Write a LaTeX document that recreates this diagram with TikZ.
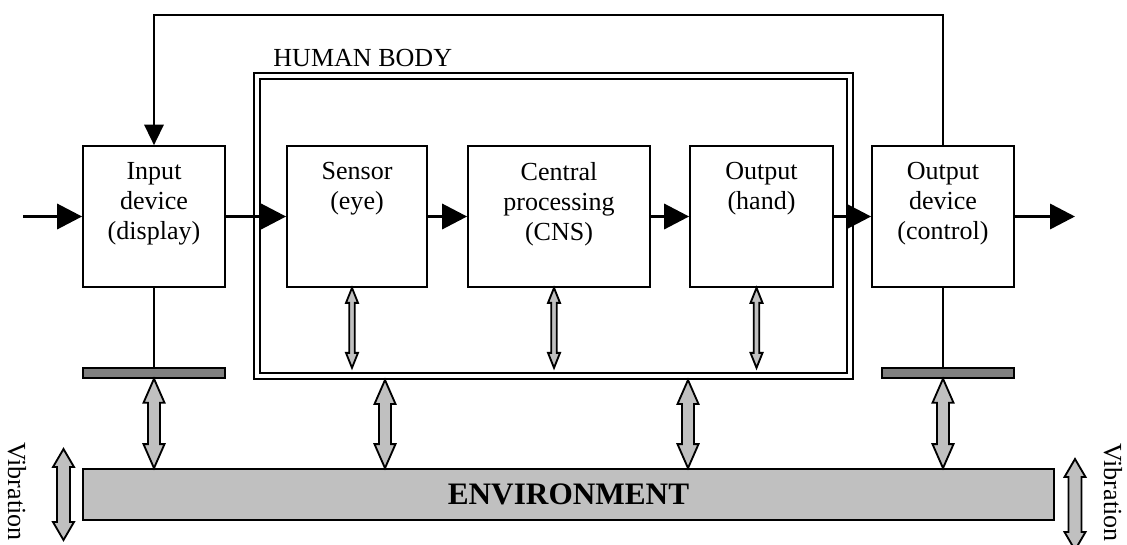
\documentclass[tikz,border=0pt]{standalone}
\usepackage{fontspec}
\setmainfont{Liberation Serif}
\usetikzlibrary{calc}
\usetikzlibrary{arrows.meta}
\definecolor{envgray}{RGB}{192,192,192}
\definecolor{plategray}{RGB}{128,128,128}

% one pixel of the sketch
\newdimen\pix
\pix=0.4608pt

% grey two-headed arrow between two points above each other
% #1 top, #2 bottom, #3 half shaft, #4 half head, #5 head length
\newcommand{\twoway}[5]{%
  \filldraw[twoarr] (#1) -- ++(#4,#5) -- ++(#3-#4,0)
    -- ($(#2)+(#3,-#5)$) -- ++(#4-#3,0) -- (#2)
    -- ++(-#4,-#5) -- ++(#4-#3,0)
    -- ($(#1)+(-#3,#5)$) -- ++(#3-#4,0) -- cycle;
}

\tikzset{
  unit/.style={draw, line width=0.8pt, minimum width=#1, minimum height=141\pix, inner sep=0pt},
  unittext/.style={align=center, inner sep=0pt},
  plate/.style={draw, fill=plategray, line width=0.7pt, minimum width=#1, minimum height=10\pix, inner sep=0pt},
  flow/.style={line width=1.6pt, -{Triangle[length=11.5pt,width=11.5pt]}},
  feedback/.style={line width=0.8pt, -{Triangle[length=9.5pt,width=9pt]}},
  twoarr/.style={draw=black, fill=envgray, line width=0.85pt, line join=miter},
}

\begin{document}
\begin{tikzpicture}[x=0.4608pt, y=-0.4608pt, font=\fontsize{12}{13.8}\selectfont]
\useasboundingbox (0,0) rectangle (1127,544);

%---------------------------------------
% Human body
%---------------------------------------
\node[draw, double, line width=0.9pt, double distance=1.5pt, minimum width=593\pix,
      minimum height=300\pix, inner sep=0pt, outer sep=1.65pt] (body) at (553.5,226) {};
\node[anchor=base west, inner sep=0pt] (bodytext) at (273,66) {HUMAN BODY};

%---------------------------------------
% Units
%---------------------------------------
\node[unit=142\pix] (input)   at (154,216.5)   {};
\node[unit=140\pix] (sensor)  at (357,216.5)   {};
\node[unit=182\pix] (central) at (559,216.5)   {};
\node[unit=143\pix] (hand)    at (761.5,216.5) {};
\node[unit=142\pix] (outdev)  at (943,216.5)   {};

\node[unittext, anchor=north] (inputtext)   at ($(input.north)+(0,17)$)   {Input\\device\\(display)};
\node[unittext, anchor=north] (sensortext)  at ($(sensor.north)+(0,17)$)  {Sensor\\(eye)};
\node[unittext, anchor=north] (centraltext) at ($(central.north)+(0,17)$) {Central\\processing\\(CNS)};
\node[unittext, anchor=north] (handtext)    at ($(hand.north)+(0,17)$)    {Output\\(hand)};
\node[unittext, anchor=north] (outdevtext)  at ($(outdev.north)+(0,17)$)  {Output\\device\\(control)};

% ---- main flow ----
\coordinate (src)  at (23,216.5);
\coordinate (sink) at (1075,216.5);
\draw[flow] (src) -- (input);
\draw[flow] (input) -- (sensor);
\draw[flow] (sensor) -- (central);
\draw[flow] (central) -- (hand);
\draw[flow] (hand) -- (outdev);
\draw[flow] (outdev) -- (sink);

% ---- feedback loop ----
\coordinate (fbtop) at (0,15);
\draw[feedback] (outdev.north) -- (outdev.north |- fbtop) -| (input.north);

%---------------------------------------
% Plates and environment
%---------------------------------------
\node[plate=142\pix] (leftplate)  at (154,373) {};
\node[plate=132\pix] (rightplate) at (948,373) {};
\draw[line width=0.8pt] (input) -- (leftplate);
\draw[line width=0.8pt] (outdev.south) -- (outdev.south |- rightplate.north);

\node[draw, fill=envgray, line width=0.8pt, minimum width=971\pix, minimum height=51\pix,
      inner sep=0pt, font=\fontsize{14.4}{17}\selectfont\bfseries] (env) at (568.5,494.5) {ENVIRONMENT};

% ---- small arrows inside the body ----
\coordinate (s1) at ($(sensor.south)+(-5,0)$);
\coordinate (s2) at ($(central.south)+(-5,0)$);
\coordinate (s3) at ($(hand.south)+(-5,0)$);
\coordinate (s1b) at ($(s1)+(0,80)$);
\coordinate (s2b) at ($(s2)+(0,80)$);
\coordinate (s3b) at ($(s3)+(0,80)$);
\twoway{s1}{s1b}{2.8}{6}{15}
\twoway{s2}{s2b}{2.8}{6}{15}
\twoway{s3}{s3b}{2.8}{6}{15}

% ---- big arrows to the environment ----
\coordinate (a1) at (leftplate.south);
\coordinate (a1b) at (leftplate.south |- env.north);
\coordinate (a2) at (385,380);
\coordinate (a2b) at (a2 |- env.north);
\coordinate (a3) at (688,380);
\coordinate (a3b) at (a3 |- env.north);
\coordinate (a4) at (outdev.south |- rightplate.south);
\coordinate (a4b) at (a4 |- env.north);
\twoway{a1}{a1b}{6}{10.5}{24}
\twoway{a2}{a2b}{6}{10.5}{24}
\twoway{a3}{a3b}{6}{10.5}{24}
\twoway{a4}{a4b}{6}{10.5}{24}

% ---- vibration ----
\coordinate (vl)  at (63.5,449);
\coordinate (vlb) at (63.5,540);
\coordinate (vr)  at (1075,459);
\coordinate (vrb) at (1075,550);
\twoway{vl}{vlb}{6.5}{10.5}{18}
\twoway{vr}{vrb}{6.5}{10.5}{18}
\node[rotate=-90, anchor=base west, inner sep=0pt] (vibleft)  at (8,442)    {Vibration};
\node[rotate=-90, anchor=base west, inner sep=0pt] (vibright) at (1104,443) {Vibration};

\end{tikzpicture}
\end{document}
